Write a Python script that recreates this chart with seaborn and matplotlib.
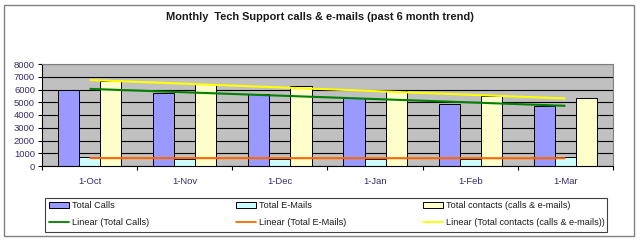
import numpy as np
import pandas as pd
import matplotlib
matplotlib.use("Agg")
import matplotlib.pyplot as plt
from matplotlib.patches import Rectangle
from matplotlib.lines import Line2D
import seaborn as sns

months = ["1-Oct", "1-Nov", "1-Dec", "1-Jan", "1-Feb", "1-Mar"]
total_calls = [6000, 5720, 5660, 5330, 4900, 4700]
total_emails = [700, 580, 580, 560, 560, 700]
total_contacts = [6700, 6420, 6300, 5900, 5480, 5320]
series_names = ["Total Calls", "Total E-Mails", "Total contacts (calls & e-mails)"]
y_ticks = [0, 1000, 2000, 3000, 4000, 5000, 6000, 7000, 8000]

bar_colors = ["#9999FF", "#CCFFFF", "#FFFFCC"]
trend_colors = ["#008000", "#FF6600", "#FFFF00"]

sns.set_theme(style="white")
plt.rcParams["font.family"] = ["Liberation Sans", "DejaVu Sans"]

df = pd.DataFrame({
    "month": months * 3,
    "series": sum([[s] * len(months) for s in series_names], []),
    "value": total_calls + total_emails + total_contacts,
})

W, H = 640, 240
fig = plt.figure(figsize=(6.4, 2.4), dpi=100)
fig.patch.set_facecolor("white")

# outer border
fig.add_artist(Rectangle((4 / W, 1 - 236 / H), 630 / W, 231 / H, transform=fig.transFigure,
                         fill=False, edgecolor="#808080", linewidth=1.0))

ax = fig.add_axes([42 / W, 1 - 166 / H, 571 / W, 102 / H])
ax.set_facecolor("#C0C0C0")

sns.barplot(data=df, x="month", y="value", hue="series", hue_order=series_names,
            palette=bar_colors, width=0.667, edgecolor="black", linewidth=0.7,
            saturation=1, ax=ax, legend=False, errorbar=None)

# linear trendlines
xs = np.arange(len(months))
for vals, col in zip([total_calls, total_emails, total_contacts], trend_colors):
    k, b = np.polyfit(xs, np.array(vals, dtype=float), 1)
    ax.plot([xs[0], xs[-1]], [b + k * xs[0], b + k * xs[-1]], color=col, linewidth=1.5,
            solid_capstyle="butt", zorder=5)

ax.set_xlim(-0.5, len(months) - 0.5)
ax.set_ylim(0, 8000)
ax.set_yticks(y_ticks)
ax.yaxis.grid(True, color="black", linewidth=0.8)
ax.set_axisbelow(True)
ax.set_xlabel("")
ax.set_ylabel("")

ax.set_xticks(np.arange(-0.5, len(months) + 0.5, 1.0))
ax.set_xticklabels([])
ax.set_xticks(xs, minor=True)
ax.set_xticklabels(months, minor=True)
ax.tick_params(axis="x", which="major", length=3, width=0.8, color="black", direction="out", bottom=True)
ax.tick_params(axis="x", which="minor", length=0, pad=8, labelsize=6.8, labelcolor="#3a2d66")
ax.tick_params(axis="y", length=3, width=0.8, color="black", direction="out", left=True,
               labelsize=6.8, labelcolor="#3a2d66", pad=2)

for side in ["top", "right"]:
    ax.spines[side].set_color("#808080")
    ax.spines[side].set_linewidth(0.8)
for side in ["left", "bottom"]:
    ax.spines[side].set_color("black")
    ax.spines[side].set_linewidth(0.8)

fig.text(320 / W, 1 - 17 / H, "Monthly  Tech Support calls & e-mails (past 6 month trend)",
         ha="center", va="center", fontsize=7.9, fontweight="bold", color="#1a1a1a")

# legend frame
fig.add_artist(Rectangle((45 / W, 1 - 232 / H), 562 / W, 34 / H, transform=fig.transFigure,
                         fill=False, edgecolor="#404040", linewidth=0.8))

lin_names = ["Linear (Total Calls)", "Linear (Total E-Mails)",
             "Linear (Total contacts (calls & e-mails))"]
col_x = [49, 236, 423]
for i in range(3):
    handles = [Rectangle((0, 0), 1, 1, facecolor=bar_colors[i], edgecolor="black", linewidth=0.7),
               Line2D([0], [0], color=trend_colors[i], linewidth=1.3)]
    leg = fig.legend(handles, [series_names[i], lin_names[i]], loc="upper left",
                     bbox_to_anchor=(col_x[i] / W, 1 - 201.5 / H), bbox_transform=fig.transFigure,
                     frameon=False, fontsize=6.6, handlelength=2.2, handleheight=0.6,
                     handletextpad=0.35, labelspacing=0.8, borderpad=0, borderaxespad=0)
    for t in leg.get_texts():
        t.set_color("#1a1a1a")

fig.savefig("out.png", dpi=100, facecolor="white")
